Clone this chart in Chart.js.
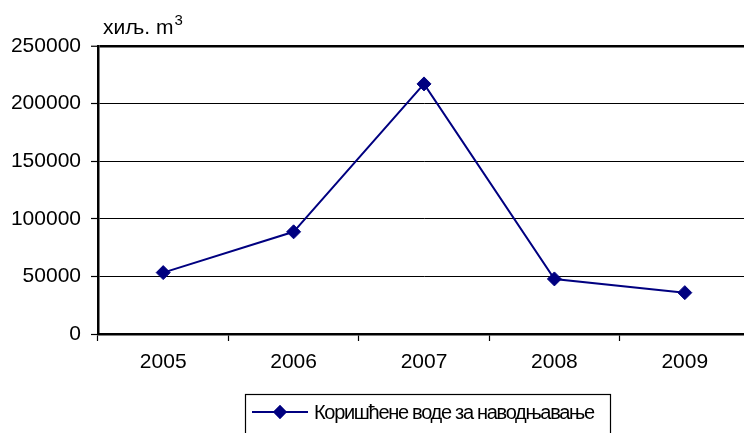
<!DOCTYPE html>
<html>
<head>
<meta charset="utf-8">
<script src="https://cdn.jsdelivr.net/npm/chart.js@4/dist/chart.umd.min.js"></script>
<style>
  html, body { margin:0; padding:0; background:#fff; overflow:hidden; width:744px; height:433px; }
  #wrap { position:absolute; left:0; top:0; width:758px; height:433px; }
</style>
</head>
<body>
<div id="wrap"><canvas id="c" width="758" height="433"></canvas></div>
<script>
const years = ['2005', '2006', '2007', '2008', '2009'];
const irrigationWater = [53300, 88700, 217100, 47800, 35900];
const yTicks = [0, 50000, 100000, 150000, 200000, 250000];
const seriesLabel = 'Коришћене воде за наводњавање';
const unitLabel = 'хиљ. m';
const unitSup = '3';

const FONT = "'Liberation Sans', Arial, sans-serif";
const NAVY = '#000080';

const extras = {
  id: 'extras',
  afterDraw(chart) {
    const ctx = chart.ctx;
    const a = chart.chartArea;
    ctx.save();
    ctx.fillStyle = '#000';
    ctx.textBaseline = 'alphabetic';
    ctx.textAlign = 'left';
    ctx.font = '21px ' + FONT;
    const ux = a.left + 5, uy = a.top - 12;
    ctx.fillText(unitLabel, ux, uy);
    const w = ctx.measureText(unitLabel).width;
    ctx.font = '15px ' + FONT;
    ctx.fillText(unitSup, ux + w + 1, uy - 9);
    // legend
    const lx = 245.5, ly = 394.5, lw = 365, lh = 60;
    ctx.strokeStyle = '#000';
    ctx.lineWidth = 1.2;
    ctx.strokeRect(lx, ly, lw, lh);
    const my = 412;
    ctx.strokeStyle = NAVY;
    ctx.lineWidth = 2;
    ctx.beginPath();
    ctx.moveTo(252, my);
    ctx.lineTo(308, my);
    ctx.stroke();
    ctx.fillStyle = NAVY;
    Chart.helpers.drawPoint(ctx, { pointStyle: 'rectRot', radius: 5.5, borderWidth: 1 }, 280, my);
    ctx.fill();
    ctx.stroke();
    ctx.fillStyle = '#000';
    ctx.font = '20px ' + FONT;
    ctx.textBaseline = 'middle';
    if ('letterSpacing' in ctx) ctx.letterSpacing = '-1.3px';
    ctx.fillText(chart.data.datasets[0].label, 314, my + 1);
    if ('letterSpacing' in ctx) ctx.letterSpacing = '0px';
    ctx.restore();
  }
};

new Chart(document.getElementById('c'), {
  type: 'line',
  data: {
    labels: years,
    datasets: [{
      label: seriesLabel,
      data: irrigationWater,
      borderColor: NAVY,
      backgroundColor: NAVY,
      borderWidth: 2,
      pointStyle: 'rectRot',
      pointRadius: 7,
      pointBorderWidth: 1,
      pointBackgroundColor: NAVY,
      pointBorderColor: NAVY,
      tension: 0,
      fill: false
    }]
  },
  options: {
    responsive: false,
    animation: false,
    devicePixelRatio: 1,
    layout: { padding: { top: 46, right: 0, left: 0, bottom: 0 } },
    plugins: { legend: { display: false }, tooltip: { enabled: false } },
    scales: {
      x: {
        offset: true,
        afterFit(s) { s.height = 99; },
        grid: {
          offset: true,
          drawOnChartArea: false,
          drawTicks: true,
          tickLength: 7,
          tickColor: '#000',
          tickWidth: 1.2
        },
        border: { color: '#000', width: 2.5 },
        ticks: { color: '#000', font: { family: FONT, size: 21 }, padding: 9, maxRotation: 0 }
      },
      y: {
        min: 0,
        max: 250000,
        afterFit(s) { s.width = 98; },
        afterBuildTicks(s) { s.ticks = yTicks.map(v => ({ value: v })); },
        grid: {
          color: '#000',
          lineWidth: (c) => (c.tick && c.tick.value === 250000 ? 2.5 : 1),
          drawTicks: true,
          tickLength: 7,
          tickColor: '#000',
          tickWidth: 1.2
        },
        border: { color: '#000', width: 2.5 },
        ticks: { color: '#000', font: { family: FONT, size: 21 }, padding: 10, callback: (v) => String(v) }
      }
    }
  },
  plugins: [extras]
});
</script>
</body>
</html>
